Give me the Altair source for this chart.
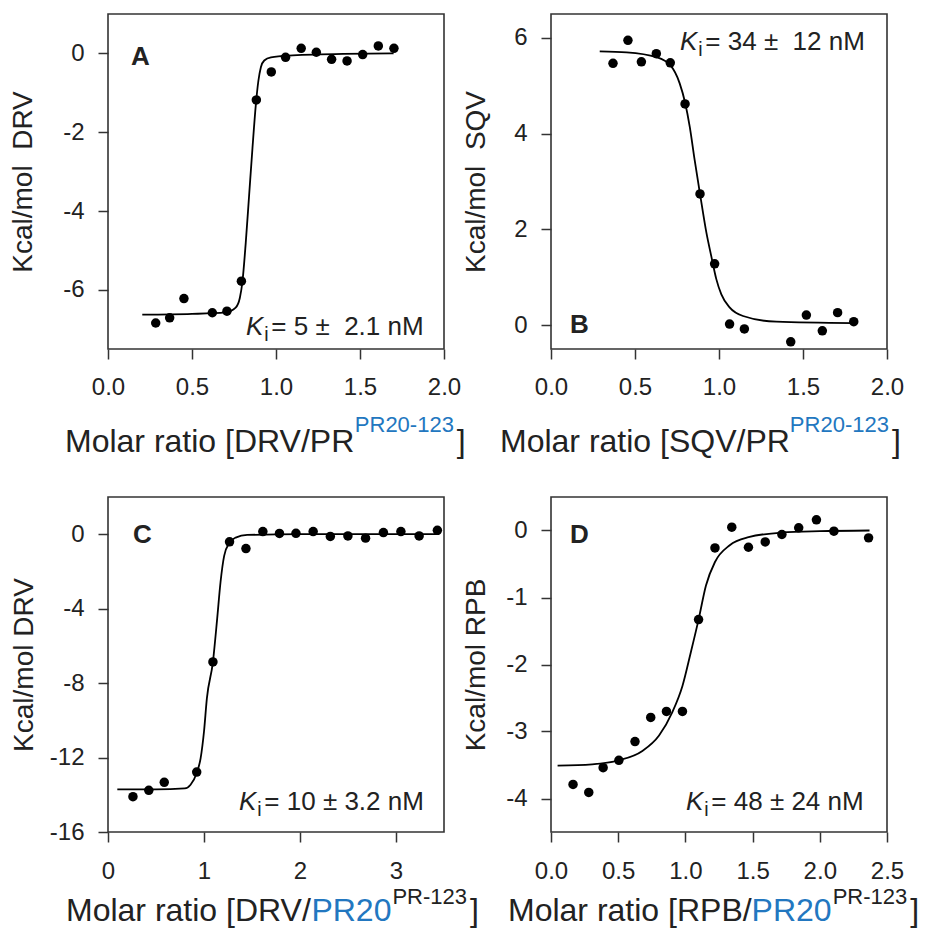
import altair as alt
import pandas as pd

# ---------------- data ----------------
# Panel A  (DRV / PR^PR20-123)
a_x = [0.284, 0.367, 0.452, 0.621, 0.708, 0.794, 0.883, 0.972, 1.057, 1.150, 1.240, 1.331, 1.423, 1.516, 1.609, 1.702]
a_y = [-6.84, -6.71, -6.22, -6.58, -6.54, -5.78, -1.18, -0.47, -0.10, 0.13, 0.03, -0.15, -0.19, -0.03, 0.19, 0.13]
a_fit_x = [0.204, 0.50, 0.70, 0.76, 0.785, 0.80, 0.82, 0.84, 0.86, 0.88, 0.895, 0.91, 0.93, 0.97, 1.10, 1.40, 1.70]
a_fit_y = [-6.63, -6.61, -6.57, -6.45, -6.20, -5.80, -4.80, -3.60, -2.40, -1.30, -0.70, -0.35, -0.18, -0.10, -0.05, -0.01, 0.0]

# Panel B  (SQV / PR^PR20-123)
b_x = [0.369, 0.458, 0.538, 0.627, 0.710, 0.798, 0.887, 0.974, 1.063, 1.151, 1.427, 1.520, 1.615, 1.706, 1.802]
b_y = [5.47, 5.95, 5.50, 5.67, 5.48, 4.62, 2.74, 1.28, 0.02, -0.08, -0.35, 0.21, -0.12, 0.26, 0.07]
b_fit_x = [0.29, 0.45, 0.627, 0.71, 0.766, 0.798, 0.826, 0.855, 0.887, 0.925, 0.954, 0.984, 1.014, 1.063, 1.143, 1.341, 1.80]
b_fit_y = [5.72, 5.70, 5.60, 5.43, 5.05, 4.65, 4.14, 3.45, 2.74, 1.93, 1.44, 0.96, 0.64, 0.37, 0.19, 0.07, 0.04]

# Panel C  (DRV / PR20^PR-123)
c_x = [0.26, 0.425, 0.586, 0.924, 1.093, 1.266, 1.437, 1.613, 1.786, 1.958, 2.137, 2.316, 2.499, 2.683, 2.869, 3.051, 3.241, 3.431]
c_y = [-14.1, -13.76, -13.33, -12.78, -6.86, -0.41, -0.77, 0.14, 0.04, 0.05, 0.14, -0.12, -0.09, -0.21, 0.09, 0.14, -0.09, 0.21]
c_fit_x = [0.097, 0.50, 0.80, 0.86, 0.924, 0.965, 1.0, 1.03, 1.093, 1.137, 1.172, 1.21, 1.266, 1.33, 1.45, 2.0, 3.45]
c_fit_y = [-13.71, -13.71, -13.66, -13.46, -12.83, -12.03, -10.6, -8.82, -6.86, -4.55, -2.58, -1.16, -0.45, -0.18, -0.04, 0.0, 0.0]

# Panel D  (RPB / PR20^PR-123)
d_x = [0.164, 0.281, 0.388, 0.505, 0.625, 0.742, 0.859, 0.978, 1.098, 1.220, 1.345, 1.469, 1.594, 1.718, 1.843, 1.975, 2.105, 2.363]
d_y = [-3.79, -3.91, -3.54, -3.43, -3.15, -2.79, -2.70, -2.70, -1.33, -0.26, 0.05, -0.25, -0.17, -0.06, 0.04, 0.16, -0.01, -0.11]
d_fit_x = [0.049, 0.306, 0.505, 0.68, 0.804, 0.903, 0.978, 1.04, 1.098, 1.153, 1.22, 1.33, 1.47, 1.72, 2.0, 2.37]
d_fit_y = [-3.51, -3.49, -3.43, -3.29, -3.06, -2.71, -2.32, -1.82, -1.33, -0.82, -0.47, -0.22, -0.10, -0.03, -0.01, 0.0]

# axis ticks
a_xticks = [0.0, 0.5, 1.0, 1.5, 2.0]
a_yticks = [0, -2, -4, -6]
b_xticks = [0.0, 0.5, 1.0, 1.5, 2.0]
b_yticks = [0, 2, 4, 6]
c_xticks = [0, 1, 2, 3]
c_yticks = [0, -4, -8, -12, -16]
d_xticks = [0.0, 0.5, 1.0, 1.5, 2.0, 2.5]
d_yticks = [0, -1, -2, -3, -4]

# ---------------- styling ----------------
FONT = "Liberation Sans"
W, H = 336, 335
BLUE = "#2277c0"
INK = "#222222"
FRAME = "#333333"
TITLE_FS = 32
SUP_FS = 22
LABEL_FS = 24
YTITLE_FS = 28
KI_FS = 26
LETTER_FS = 26
NB = "\u00a0"

# Arial / Liberation Sans advance widths (per 1000 em) for laying text runs end to end
ADV = {' ': 278, NB: 278, '-': 333, '/': 278, '[': 278, ']': 278, '.': 278, 'P': 667, 'R': 722,
       'D': 722, 'V': 667, 'S': 667, 'Q': 778, 'B': 667, 'M': 833, 'o': 556, 'l': 222,
       'a': 556, 'r': 333, 't': 278, 'i': 222, 'n': 556, '=': 584, '±': 584, 'K': 667}


def tw(s, fs):
    return sum(ADV.get(ch, 556) for ch in s) * fs / 1000.0


def txt(s, x, y, fs, color=INK, style="normal", weight="normal", align="left"):
    return alt.Chart(pd.DataFrame({"t": [s]})).mark_text(
        font=FONT, fontSize=fs, color=color, fontStyle=style, fontWeight=weight,
        align=align, baseline="alphabetic", clip=False
    ).encode(x=alt.value(x), y=alt.value(y), text="t:N")


def run(parts, x0, y0):
    """parts: list of (text, fontsize, color, raise, gap_before)"""
    out = []
    x = x0
    for s, fs, col, rise, gap in parts:
        x += gap
        out.append(txt(s, x, y0 - rise, fs, color=col))
        x += tw(s, fs)
    return out


def panel(px, py, fx, fy, xdom, ydom, xticks, yticks, xfmt, xpad, ytitle, ytitle_x,
          letter, letter_xy, ki_num, ki_xy, title_parts, title_xy):
    xs = alt.Scale(domain=xdom, nice=False, zero=False)
    ys = alt.Scale(domain=ydom, nice=False, zero=False)
    xaxis = alt.Axis(values=xticks, format=xfmt, title=None, grid=False, domain=False,
                     ticks=True, tickSize=10, tickWidth=1.5, tickColor=FRAME,
                     labelFont=FONT, labelFontSize=LABEL_FS, labelColor=INK,
                     labelPadding=xpad, labelFlush=False, labelOverlap=False)
    yaxis = alt.Axis(values=yticks, title=ytitle, grid=False, domain=False,
                     labelExpr="'' + datum.value",
                     ticks=True, tickSize=10, tickWidth=1.5, tickColor=FRAME,
                     labelFont=FONT, labelFontSize=LABEL_FS, labelColor=INK,
                     labelPadding=14, labelFlush=False, labelOverlap=False,
                     titleFont=FONT, titleFontSize=YTITLE_FS, titleFontWeight="normal",
                     titleColor=INK, titleX=ytitle_x, titleY=H / 2, titleAngle=270,
                     titleBaseline="bottom", titleAlign="center")
    fit = pd.DataFrame({"x": fx, "y": fy})
    pts = pd.DataFrame({"x": px, "y": py})
    line = alt.Chart(fit).mark_line(color="black", strokeWidth=1.8, interpolate="monotone").encode(
        x=alt.X("x:Q", scale=xs, axis=xaxis), y=alt.Y("y:Q", scale=ys, axis=yaxis))
    dots = alt.Chart(pts).mark_circle(size=90, color="black", opacity=1).encode(
        x=alt.X("x:Q", scale=xs), y=alt.Y("y:Q", scale=ys))
    layers = [line, dots]
    layers.append(txt(letter, letter_xy[0], letter_xy[1], LETTER_FS, weight="bold"))
    kx, ky = ki_xy
    layers.append(txt("K", kx, ky, KI_FS, style="italic"))
    layers.append(txt("i", kx + tw("K", KI_FS) + 1, ky + 6, KI_FS * 0.75))
    layers.append(txt(ki_num, kx + tw("K", KI_FS) + 8, ky, KI_FS))
    layers += run(title_parts, title_xy[0], title_xy[1])
    return alt.layer(*layers).properties(
        width=W, height=H, view=alt.ViewBackground(stroke=FRAME, strokeWidth=1.6, fill="white"))


pA = panel(a_x, a_y, a_fit_x, a_fit_y, [0, 2], [-7.5, 1], a_xticks, a_yticks, ".1f", 16,
           "Kcal/mol" + NB + NB + "DRV", -71, "A", (23, 51), "= 5 ±" + NB + NB + "2.1 nM", (138, 321),
           [("Molar ratio [DRV/PR", TITLE_FS, INK, 0, 0), ("PR20-123", SUP_FS, BLUE, 20, 0),
            ("]", TITLE_FS, INK, 0, 3)], (-43, 438))
pB = panel(b_x, b_y, b_fit_x, b_fit_y, [0, 2], [-0.5, 6.5], b_xticks, b_yticks, ".1f", 16,
           "Kcal/mol" + NB + NB + "SQV", -61, "B", (19, 319), "= 34 ±" + NB + NB + "12 nM", (129, 36),
           [("Molar ratio [SQV/PR", TITLE_FS, INK, 0, 0), ("PR20-123", SUP_FS, BLUE, 20, 0),
            ("]", TITLE_FS, INK, 0, 3)], (-51, 438))
pC = panel(c_x, c_y, c_fit_x, c_fit_y, [0, 3.5], [-16, 2], c_xticks, c_yticks, "d", 17,
           "Kcal/mol DRV", -70, "C", (25, 46), "= 10 ± 3.2 nM", (131, 313),
           [("Molar ratio [DRV/", TITLE_FS, INK, 0, 0), ("PR20", TITLE_FS, BLUE, 0, 0),
            ("PR-123", SUP_FS, INK, 17, 1), ("]", TITLE_FS, INK, 0, 3)], (-42, 424))
pD = panel(d_x, d_y, d_fit_x, d_fit_y, [0, 2.5], [-4.5, 0.5], d_xticks, d_yticks, ".1f", 17,
           "Kcal/mol RPB", -61, "D", (19, 46), "= 48 ± 24 nM", (135, 313),
           [("Molar ratio [RPB/", TITLE_FS, INK, 0, 0), ("PR20", TITLE_FS, BLUE, 0, 0),
            ("PR-123", SUP_FS, INK, 17, 1), ("]", TITLE_FS, INK, 0, 3)], (-43, 424))

chart = alt.concat(pA, pB, pC, pD, columns=2, spacing={"row": 148, "column": 107}).properties(
    bounds="flush",
    padding={"left": 0, "top": 5, "right": 0, "bottom": 0},
).configure_view(stroke=FRAME, strokeWidth=1.6)

chart.save("out.html", embed_options={"renderer": "svg", "actions": False})
